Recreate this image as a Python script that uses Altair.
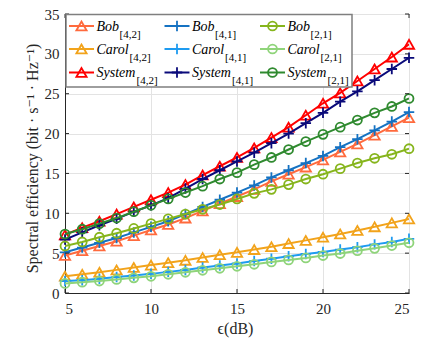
import altair as alt
import pandas as pd

# ---------------- data ----------------
snr_db = list(range(5, 26))

bob_42 = [4.7, 5.3, 5.9, 6.5, 7.2, 7.9, 8.6, 9.4, 10.3, 11.2, 12.1, 13.0, 14.0, 14.9, 15.8, 16.7, 17.7, 18.7, 19.8, 20.9, 22.0]
carol_42 = [2.1, 2.35, 2.6, 2.9, 3.2, 3.5, 3.8, 4.1, 4.45, 4.8, 5.1, 5.45, 5.8, 6.2, 6.6, 7.0, 7.4, 7.85, 8.3, 8.8, 9.3]
system_42 = [7.3, 8.2, 9.0, 9.9, 10.8, 11.7, 12.6, 13.6, 14.8, 15.9, 17.0, 18.2, 19.5, 20.8, 22.3, 23.8, 25.1, 26.6, 28.1, 29.6, 31.2]

bob_41 = [5.1, 5.7, 6.3, 6.9, 7.6, 8.3, 9.0, 9.9, 10.8, 11.7, 12.6, 13.5, 14.5, 15.4, 16.3, 17.2, 18.3, 19.3, 20.4, 21.5, 22.7]
carol_41 = [1.5, 1.6, 1.8, 2.0, 2.2, 2.4, 2.65, 2.9, 3.2, 3.45, 3.7, 4.0, 4.3, 4.6, 4.9, 5.15, 5.45, 5.75, 6.1, 6.4, 6.8]
system_41 = [6.7, 7.6, 8.5, 9.3, 10.2, 11.0, 11.9, 13.1, 14.3, 15.4, 16.5, 17.6, 18.8, 20.0, 21.3, 22.6, 24.0, 25.3, 26.7, 28.1, 29.5]

bob_21 = [5.9, 6.4, 7.0, 7.5, 8.1, 8.7, 9.3, 9.9, 10.5, 11.1, 11.8, 12.5, 13.0, 13.6, 14.3, 14.9, 15.6, 16.3, 16.9, 17.4, 18.1]
carol_21 = [1.2, 1.35, 1.5, 1.7, 1.9, 2.1, 2.35, 2.6, 2.85, 3.1, 3.35, 3.6, 3.9, 4.15, 4.4, 4.7, 4.95, 5.3, 5.6, 5.95, 6.3]
system_21 = [7.4, 8.0, 8.7, 9.4, 10.2, 11.0, 11.8, 12.6, 13.4, 14.3, 15.1, 16.1, 17.0, 18.0, 19.0, 19.9, 20.8, 21.7, 22.6, 23.4, 24.4]

names = ["Bob", "Carol", "System", "Bob", "Carol", "System", "Bob", "Carol", "System"]
subs = ["[4,2]", "[4,2]", "[4,2]", "[4,1]", "[4,1]", "[4,1]", "[2,1]", "[2,1]", "[2,1]"]
values = [bob_42, carol_42, system_42, bob_41, carol_41, system_41, bob_21, carol_21, system_21]

x_ticks = [5, 10, 15, 20, 25]
y_ticks = [0, 5, 10, 15, 20, 25, 30, 35]

# ---------------- styles ----------------
colors = ["#FF6A3D", "#F2A31B", "#FF0000", "#1572C2", "#1E9BF0", "#0A0A7A", "#86B51C", "#8FD47A", "#2F8A2F"]
PLUS = "M-1,0H1M0,-1V1"
shapes = ["triangle-up"] * 3 + [PLUS] * 3 + ["circle"] * 3
sizes = [105] * 3 + [110] * 3 + [80] * 3
name_w = {"Bob": 23, "Carol": 33, "System": 40}
FONT = "Liberation Serif, Times New Roman, Times, DejaVu Serif, serif"
TXT = "#262626"
TICK = 4

W, H = 344, 279

rows = []
for i, (n, s, vals) in enumerate(zip(names, subs, values)):
    for x, v in zip(snr_db, vals):
        rows.append({"key": f"{n}{s}", "x": x, "v": v})
df = pd.DataFrame(rows)

X = alt.X("x:Q", scale=alt.Scale(domain=[5, 25], nice=False),
          axis=alt.Axis(values=x_ticks, title="ϵ(dB)", titleBaseline="alphabetic",
                        titleY=40, titleX=W / 2 - 2, labelPadding=8, format="d"))
Y = alt.Y("v:Q", scale=alt.Scale(domain=[0, 35], nice=False),
          axis=alt.Axis(values=y_ticks, title="Spectral efficiency (bit · s⁻¹ · Hz⁻¹)",
                        titleBaseline="alphabetic", titleX=-28, titleY=144, labelPadding=6))

layers = []
for i, (n, s) in enumerate(zip(names, subs)):
    base = alt.Chart(df).transform_filter(alt.datum.key == f"{n}{s}")
    layers.append(base.mark_line(color=colors[i], strokeWidth=2, clip=True).encode(x=X, y=Y))
    layers.append(base.mark_point(shape=shapes[i], filled=False, color=colors[i], size=sizes[i],
                                  strokeWidth=1.8, opacity=1).encode(x=X, y=Y))

# inward tick marks (MATLAB style) on all four sides
xt = alt.Chart(pd.DataFrame({"x": x_ticks}))
yt = alt.Chart(pd.DataFrame({"v": y_ticks}))
tick_layers = [
    xt.mark_rule(color=TXT, strokeWidth=1).encode(x=X, y=alt.value(H), y2=alt.value(H - TICK)),
    xt.mark_rule(color=TXT, strokeWidth=1).encode(x=X, y=alt.value(0), y2=alt.value(TICK)),
    yt.mark_rule(color=TXT, strokeWidth=1).encode(y=Y, x=alt.value(0), x2=alt.value(TICK)),
    yt.mark_rule(color=TXT, strokeWidth=1).encode(y=Y, x=alt.value(W), x2=alt.value(W - TICK)),
]

# ---------------- legend (drawn manually for subscripts) ----------------
leg_rows = []
for i, (n, s) in enumerate(zip(names, subs)):
    col, row = i // 3, i % 3
    ox = col * 95.5
    my = [12, 35, 58.5][row]
    leg_rows.append({
        "name": n, "sub": s, "color": colors[i],
        "l0": 4 + ox, "l1": 29 + ox, "mx": 16.5 + ox, "my": my,
        "tx": 31.5 + ox, "ty": my + 4.5,
        "sx": 31.5 + ox + name_w[n], "sy": my + 11.5,
    })
leg = pd.DataFrame(leg_rows)

box = alt.Chart(pd.DataFrame({"a": [0]})).mark_rect(
    fill="white", stroke="#7f7f7f", strokeWidth=1.5
).encode(x=alt.value(1), x2=alt.value(287), y=alt.value(0.5), y2=alt.value(73))

lbase = alt.Chart(leg)
lines = lbase.mark_rule(strokeWidth=2).encode(
    x=alt.X("l0:Q", scale=None, axis=None), x2="l1:Q",
    y=alt.Y("my:Q", scale=None, axis=None),
    color=alt.Color("color:N", scale=None))
marks = []
for i in range(9):
    marks.append(alt.Chart(leg.iloc[[i]]).mark_point(
        shape=shapes[i], filled=False, color=colors[i], size=sizes[i], strokeWidth=1.8, opacity=1
    ).encode(x=alt.X("mx:Q", scale=None, axis=None), y=alt.Y("my:Q", scale=None, axis=None)))
ntext = lbase.mark_text(font=FONT, fontStyle="italic", fontSize=14, align="left",
                        baseline="alphabetic", color="black").encode(
    x=alt.X("tx:Q", scale=None, axis=None), y=alt.Y("ty:Q", scale=None, axis=None), text="name:N")
stext = lbase.mark_text(font=FONT, fontSize=11, align="left",
                        baseline="alphabetic", color="black").encode(
    x=alt.X("sx:Q", scale=None, axis=None), y=alt.Y("sy:Q", scale=None, axis=None), text="sub:N")

chart = alt.layer(*layers, *tick_layers, box, lines, *marks, ntext, stext).properties(
    width=W, height=H,
    autosize=alt.AutoSizeParams(type="none"),
    padding={"left": 57, "top": 6, "right": 10, "bottom": 46},
).configure_view(
    stroke="#262626", strokeWidth=1
).configure_axis(
    grid=True, gridColor="#e3e3e3", gridWidth=1,
    domainColor="#262626", domainWidth=1, ticks=False,
    labelFont=FONT, labelFontSize=15, labelColor=TXT,
    titleFont=FONT, titleFontSize=16, titleFontWeight="normal", titleColor=TXT,
)

chart.save("out.html", embed_options={"renderer": "svg", "actions": False})
